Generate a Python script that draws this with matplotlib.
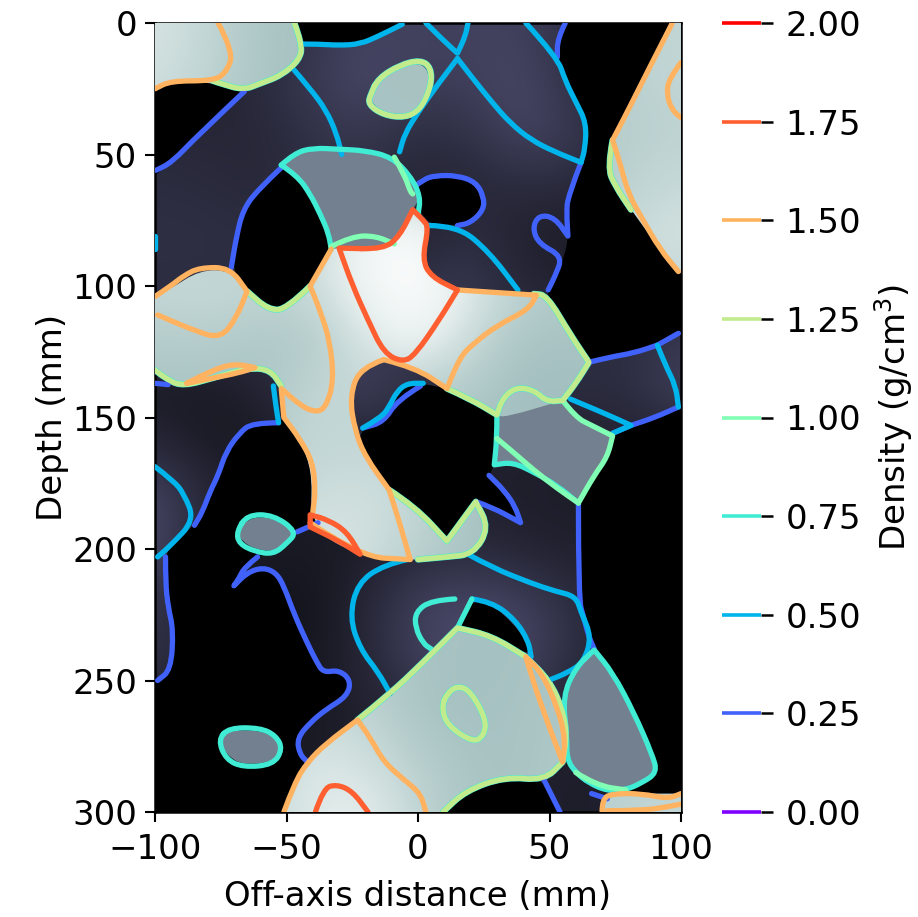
import numpy as np
import matplotlib
matplotlib.use("Agg")
import matplotlib.pyplot as plt
from matplotlib.path import Path
from matplotlib.patches import PathPatch
from matplotlib.colors import LinearSegmentedColormap, Normalize

# ---- colourbar levels and axis labels
levels = [0.00, 0.25, 0.50, 0.75, 1.00, 1.25, 1.50, 1.75, 2.00]
x_ticks = [-100, -50, 0, 50, 100]
y_ticks = [0, 50, 100, 150, 200, 250, 300]

# ---- tone, on a 20 mm grid (x -100..100, y 0..300)
grid_x = [-100, -80, -60, -40, -20, 0, 20, 40, 60, 80, 100]
grid_y = list(range(0, 301, 20))
dark_tone = [
    [.30, .30, .30, .45, .55, .55, .55, .55, .40, .30, .30],
    [.30, .30, .40, .50, .62, .55, .55, .60, .40, .30, .30],
    [.35, .35, .35, .45, .50, .40, .45, .60, .50, .30, .30],
    [.40, .38, .35, .40, .40, .35, .35, .40, .40, .30, .30],
    [.42, .42, .40, .40, .40, .30, .40, .30, .25, .30, .30],
    [.40, .40, .40, .40, .40, .45, .50, .35, .30, .30, .30],
    [.40, .40, .40, .45, .50, .50, .40, .40, .40, .40, .50],
    [.25, .25, .30, .50, .55, .40, .35, .40, .40, .40, .55],
    [.35, .25, .25, .30, .30, .30, .30, .30, .30, .30, .30],
    [.60, .35, .25, .25, .25, .30, .30, .28, .28, .30, .30],
    [.60, .30, .25, .25, .28, .35, .38, .32, .28, .30, .30],
    [.45, .30, .20, .20, .35, .55, .60, .55, .40, .30, .30],
    [.45, .30, .20, .22, .35, .55, .65, .60, .40, .30, .30],
    [.30, .30, .20, .25, .30, .40, .50, .45, .30, .30, .30],
    [.25, .25, .25, .25, .30, .30, .30, .30, .28, .30, .30],
    [.25, .25, .25, .25, .30, .30, .30, .30, .28, .30, .30],
]
pale_tone = [
    [1.64, 1.50, 1.33, 1.27, 1.30, 1.30, 1.30, 1.30, 1.35, 1.40, 1.50],
    [1.60, 1.48, 1.32, 1.27, 1.30, 1.28, 1.30, 1.30, 1.40, 1.45, 1.50],
    [1.50, 1.40, 1.30, 1.30, 1.30, 1.30, 1.30, 1.30, 1.35, 1.42, 1.45],
    [1.50, 1.40, 1.30, 1.30, 1.30, 1.30, 1.30, 1.30, 1.35, 1.45, 1.52],
    [1.50, 1.40, 1.40, 1.50, 1.90, 1.95, 1.50, 1.40, 1.40, 1.55, 1.62],
    [1.50, 1.55, 1.50, 1.55, 1.85, 2.00, 1.70, 1.45, 1.35, 1.50, 1.50],
    [1.40, 1.40, 1.35, 1.35, 1.65, 1.85, 1.55, 1.30, 1.30, 1.30, 1.30],
    [1.30, 1.30, 1.30, 1.50, 1.50, 1.40, 1.35, 1.25, 1.25, 1.25, 1.25],
    [1.30, 1.30, 1.40, 1.50, 1.50, 1.45, 1.30, 1.25, 1.25, 1.25, 1.25],
    [1.40, 1.40, 1.45, 1.55, 1.60, 1.50, 1.30, 1.25, 1.25, 1.25, 1.25],
    [1.40, 1.40, 1.50, 1.70, 1.60, 1.45, 1.30, 1.25, 1.25, 1.25, 1.25],
    [1.40, 1.40, 1.50, 1.60, 1.50, 1.30, 1.28, 1.28, 1.30, 1.30, 1.30],
    [1.40, 1.40, 1.45, 1.50, 1.45, 1.30, 1.27, 1.28, 1.32, 1.30, 1.30],
    [1.40, 1.40, 1.40, 1.55, 1.45, 1.30, 1.27, 1.30, 1.35, 1.30, 1.30],
    [1.40, 1.40, 1.50, 1.65, 1.60, 1.40, 1.30, 1.30, 1.35, 1.40, 1.40],
    [1.40, 1.40, 1.50, 1.70, 1.75, 1.50, 1.30, 1.30, 1.40, 1.50, 1.50],
]

# ---- regions with no density signal (black), read as (x mm, y mm)
black_regions = [
    [(-100, 20), (-60, 20), (-66, 26), (-84, 43), (-93.6, 53), (-100, 58)],
    [(-46, 0), (-44, 8), (-38, 8), (-30, 8.5), (-22, 8), (-15, 5), (-6, 0.5), (-3, 0)],
    [(56, 0), (53, 6), (53, 13), (56, 22), (60, 30), (63.5, 38), (63, 48), (62, 53), (57, 66), (56.5, 72),
     (57, 81), (56, 88), (52, 96.5), (49.5, 101.5), (49, 103.5), (58, 118.6), (65, 129), (73, 127),
     (82, 125.5), (91, 122.5), (99, 118), (100, 117), (100, 0)],
    [(-52, 55), (-61, 63.5), (-66.5, 71), (-69, 81), (-71, 93), (-65, 102), (-57, 109), (-50, 109),
     (-41, 100), (-33, 85), (-34, 80), (-37, 73), (-41, 65), (-46, 58)],
    [(-1, 62), (2, 60), (6.5, 58.5), (15, 58.5), (21, 61), (24, 66), (24, 71), (20, 75), (15, 77),
     (4, 77), (-1, 68)],
    [(-23, 161), (-21, 154), (-14, 150), (-11, 146), (-8, 140), (-4, 137), (1, 137), (11, 139), (30, 149),
     (30, 158), (29, 168), (27, 172), (33, 178), (37, 184), (38, 189), (28, 184), (22, 182), (11, 197),
     (-1, 184), (-11, 177.5)],
    [(-53, 152), (-63, 152), (-68, 156), (-73, 163), (-76, 172), (-79, 178), (-82, 186), (-85, 191),
     (-94, 198.6), (-96, 203), (-96, 213), (-95, 222), (-93, 231), (-94, 246), (-99, 250), (-100, 251),
     (-100, 300), (-51, 300), (-42, 281), (-45, 277), (-45, 272.6), (-41, 266), (-35, 261), (-27, 255),
     (-26, 251), (-30, 247), (-36, 247), (-38.5, 242), (-42, 236), (-47, 225), (-51, 214), (-54, 210),
     (-59, 208), (-65, 210), (-70, 214), (-68, 211), (-66, 207), (-61, 203), (-55, 201), (-46, 193.5),
     (-38, 190), (-41, 187), (-40, 167), (-51, 150)],
    [(20.5, 219), (28, 221), (36, 228), (41, 235), (43, 241), (28, 233), (15, 230)],
    [(9.5, 300), (18, 292), (33, 286.6), (48, 288), (51, 294), (54, 300)],
    [(61, 182), (74, 156), (81, 153), (90, 150), (99, 146), (100, 145.5), (100, 300), (70, 300), (70, 296),
     (72, 293), (78, 291), (67, 238.4), (65, 233.5), (63, 226), (61, 219)],
]

# ---- mid density regions (flat slate)
mid_regions = [
    [(-52, 54), (-47, 50), (-40, 48), (-30, 48.5), (-20, 49), (-10, 52), (-3, 58), (1, 66), (-2, 71),
     (-7, 81), (-13, 86), (-33, 86), (-34, 80), (-37, 73), (-41, 65), (-46, 58)],
    [(30, 149), (55, 143.5), (60, 150), (66, 153), (74, 157), (72, 165), (67, 172), (61, 182.5), (53, 176),
     (44.5, 171), (36, 167), (29, 168), (30, 158)],
    [(-69, 193.5), (-64, 188), (-55.5, 188), (-46, 193.5), (-50, 198), (-55, 201), (-62, 200), (-67, 197)],
    [(67, 238.4), (60, 245), (55, 256), (56.6, 271), (56.6, 280), (60, 285), (65, 289), (72, 292), (79, 291.6),
     (85, 289), (90, 285), (89, 278), (82, 262), (74, 247)],
    [(-76, 272.6), (-72, 269), (-60, 269), (-54, 272), (-52.5, 276), (-55, 281), (-66.5, 282), (-72, 279)],
]

# ---- high density regions
high_regions = [
    [(-100, 0), (-47, 0), (-44, 8), (-45, 14), (-52, 20), (-60, 23), (-66.5, 25.5), (-75, 23), (-94, 22),
     (-100, 25)],
    [(96.7, 0), (88, 17), (80, 33), (74, 44.5), (72, 55), (75, 62), (81, 71), (92, 86), (99, 94.5), (100, 95),
     (100, 0)],
    [(-18, 26), (-14, 21), (-7, 17), (0, 15), (4, 18), (4, 24), (1, 32), (-5, 35), (-13, 34), (-18, 30)],
    [(-30, 85.6), (-13, 86), (-7, 81), (-2, 71), (2, 75), (4, 77.6), (1.6, 90), (5, 96.5), (15, 101.5), (30, 102),
     (44, 103), (49, 103.5), (58, 118.6), (65, 129), (60, 137), (55, 143.5), (33, 150), (30, 149), (20, 143),
     (11, 139), (-1, 131), (-13, 128), (-22, 132), (-25, 142), (-24, 155), (-20, 165), (-11, 177.5), (-1, 184),
     (11, 197), (22, 182), (27, 192), (21, 202), (11, 203), (0, 204), (-3, 204), (-22, 203), (-41, 192),
     (-40, 167), (-51, 150), (-52, 138), (-56, 132), (-64, 131), (-78, 135), (-89, 138), (-95, 136), (-100, 132),
     (-100, 104), (-94, 101), (-83, 94), (-71.5, 94), (-65, 102), (-57, 109), (-50, 109), (-41, 100), (-33, 86)],
    [(-51, 300), (-47, 289), (-42, 281), (-35, 274), (-23, 265), (-10.6, 255), (1, 244), (15, 230), (28, 233),
     (41, 241), (50, 250), (55, 261), (56.6, 271), (55, 281), (48, 288), (33, 286.6), (18, 292), (9.5, 300)],
    [(70, 300), (70, 295), (74, 293), (85, 293), (100, 293), (100, 300)],
]

# ---- contour traces for each density level
contour_025 = [
    [(-66, 26), (-84, 43), (-93.6, 53), (-99.6, 56)],
    [(-52, 55), (-61, 63.5), (-66.5, 71), (-69, 81), (-71, 93)],
    [(56, 0), (53, 6), (53, 13)],
    [(62, 53), (57, 66), (56.5, 72), (57, 81), (52, 74), (46, 73), (43.5, 78), (46, 84), (55, 88.7), (52, 96.5),
     (49.5, 101.5)],
    [(-1, 62), (2, 59.5), (6.5, 58), (15, 58), (22, 60.5), (25, 66), (25, 71), (20, 76), (15, 77)],
    [(65, 129), (73, 127), (82, 125.5), (91, 122.5), (99, 118)],
    [(74, 156), (81, 153), (90, 150), (99, 146)],
    [(1, 138), (-8, 143.5), (-13, 151.7), (-21, 154)],
    [(-53, 152), (-63, 152), (-68, 156), (-73, 163), (-76, 172), (-79, 178), (-82, 186), (-85, 191)],
    [(-100, 137), (-95, 137.5)],
    [(-96, 203), (-96, 213), (-95, 222), (-93, 231), (-94, 246), (-99, 250)],
    [(-46, 193.5), (-38, 190)],
    [(-61, 203), (-66, 207), (-68, 211), (-70, 214), (-65, 209), (-59, 207), (-54, 209), (-51, 214), (-47, 225),
     (-42, 236), (-38.5, 243), (-36, 247), (-30, 246), (-25.5, 250), (-27, 256), (-35, 261), (-41, 266),
     (-46, 272), (-45, 278), (-42, 281)],
    [(22, 182), (28, 184), (39, 190), (37, 184), (33, 178), (27, 172)],
    [(61, 183), (61, 219), (63, 226), (65, 233.5), (67, 238)],
    [(48, 288), (51, 294), (54, 300)],
    [(66, 293), (72, 295)],
]
contour_050 = [
    [(-44, 8), (-38, 8), (-30, 8.5), (-22, 8), (-15, 5), (-6, 0.5)],
    [(-47, 18), (-41, 25), (-35, 33), (-31, 42), (-29, 50)],
    [(3, 0), (9, 6), (15, 11.5), (18, 5), (19, 0)],
    [(15, 13.5), (7, 24), (0, 34), (-5, 42), (-7, 49)],
    [(15, 13.5), (20, 20), (28, 30), (35, 38), (43, 44.5), (52, 49), (62, 53)],
    [(41, 0), (53, 13), (56, 22), (60, 30), (64, 38), (63.5, 48), (62, 53)],
    [(-100, 81), (-100, 86)],
    [(4, 77), (15, 77), (27, 87), (38, 101.5)],
    [(58, 143), (70, 148), (81, 153), (74, 156)],
    [(91, 122.5), (94, 130), (98, 138), (99, 146)],
    [(-21, 154), (-14, 150), (-11, 146), (-8, 140), (-4, 137), (2, 137)],
    [(-55, 138), (-54, 146), (-53, 152)],
    [(-100, 168.7), (-93, 174), (-89, 179), (-85, 189), (-94, 198.6), (-99, 203)],
    [(-4, 204), (-13, 206), (-23, 213), (-26, 226), (-22, 238), (-15, 247), (-10.6, 255)],
    [(19, 202), (28, 207), (43, 213), (52, 216), (60, 218), (62, 224), (66, 233.5), (63, 243), (57, 247), (49.5, 250)],
    [(20.5, 219), (28, 220), (37, 227), (42, 235), (43, 241)],
]
contour_075 = [
    [(-52, 54), (-47, 49.5), (-40, 47.5), (-30, 48), (-20, 48.5), (-10, 51), (-3, 58), (1, 66), (0, 73)],
    [(-52, 54), (-46, 58), (-41, 65), (-37, 73), (-34, 80), (-33, 86)],
    [(-69, 193.5), (-65, 187), (-55, 187), (-46, 193.5), (-50, 198), (-55, 202), (-62, 201), (-68, 198), (-69, 193.5)],
    [(14, 219), (5, 219.5), (-1, 224), (-1, 230), (2, 236), (5, 238)],
    [(20.5, 219), (15, 230)],
    [(30, 149), (30, 158), (29, 168), (36, 167), (44.5, 171), (53, 176), (61, 182.5)],
    [(67, 238.4), (60, 245), (55, 256), (56.6, 271), (56.6, 280), (60, 285), (65, 289), (72, 292), (79, 291.6),
     (85, 289), (91, 285), (89, 278), (82, 262), (74, 247), (67, 238.4)],
    [(-76, 272.6), (-72, 268), (-60, 268), (-54, 271), (-51.5, 276), (-55, 282), (-66.5, 283), (-73, 280), (-76, 272.6)],
]
contour_100 = [
    [(-33, 85), (-25, 81), (-16, 81), (-9, 84)],
    [(-9, 51), (-5, 58), (-3, 64), (-2, 65)],
    [(30, 158), (36, 163), (44, 170), (53, 177), (61, 182.5)],
    [(55, 143.5), (60, 150), (66, 153), (74, 157), (72, 165), (67, 172), (61, 182.5)],
    [(60, 285), (68, 290), (79, 291.6)],
]
contour_125 = [
    [(-47, 0), (-44, 8), (-45, 14), (-52, 20), (-60, 23), (-66.5, 25.5), (-75, 23), (-78, 22)],
    [(-18, 27), (-15, 21), (-7, 16), (1, 14), (5, 17), (5, 24), (1, 33), (-5, 36), (-13, 35), (-19, 31), (-18, 27)],
    [(-41, 100), (-50, 109), (-57, 109), (-65, 102)],
    [(-100, 132), (-95, 136), (-89, 138), (-78, 135), (-64, 131), (-56, 132), (-52, 138)],
    [(11, 139), (20, 143), (30, 149), (32, 143), (37, 138.5), (44, 139.5), (49, 144), (55, 143.5), (60, 137), (65, 129),
     (58, 118.6), (49, 103.5), (44, 103)],
    [(-11, 177.5), (-1, 184), (11, 197), (22, 182), (27, 192), (21, 202), (11, 203), (0, 204)],
    [(74, 44.5), (72, 55), (75, 62), (81, 71)],
    [(-23, 265), (-10.6, 255), (1, 244), (15, 230), (28, 233), (41, 241), (50, 250), (55, 261), (56.6, 271), (55, 281),
     (48, 288), (33, 286.6), (18, 292), (9.5, 300)],
    [(9, 260), (11, 255), (15, 252), (20, 254), (26, 265), (25, 271), (21, 273.6), (11, 267), (9, 260)],
]
contour_150 = [
    [(-76, 0), (-70, 11), (-73, 19), (-78, 22), (-94, 22), (-100, 25)],
    [(96.7, 0), (88, 17), (80, 33), (74, 44.5), (77, 54), (80, 65), (85, 74), (92, 86), (99, 94.5)],
    [(100, 15), (95.5, 21), (94.5, 27), (96.5, 33), (100, 36)],
    [(-100, 104), (-94, 100), (-89, 96), (-83, 93), (-71.5, 93), (-65, 102), (-69, 112), (-75, 120), (-85, 117), (-99, 111)],
    [(-88, 137), (-78, 132), (-70, 129.5), (-62, 131), (-68, 133), (-78, 135), (-88, 137)],
    [(-33, 86), (-41, 100), (-37, 110), (-33.5, 121), (-32, 136), (-35, 146), (-38.5, 148), (-44, 146), (-52, 139),
     (-51, 150), (-45, 158), (-40, 167), (-39, 178), (-40, 186)],
    [(-13, 128), (-22, 131), (-26, 142), (-24, 155), (-20, 165), (-11, 177.5), (-7, 190), (-3, 204)],
    [(-41, 190), (-22, 203), (-3, 204)],
    [(-13, 128), (-1, 131), (11, 139), (16, 127), (21, 122), (30, 115), (42, 109), (45, 103.5), (15, 101.5)],
    [(-51, 300), (-47, 289), (-42, 281), (-35, 274), (-23, 265), (-18, 272), (-13, 281), (-5, 288), (1, 293), (3, 300)],
    [(41, 241), (47, 247), (53, 260), (56, 272), (55, 281), (50, 268), (45, 254), (41, 241)],
    [(70, 300), (70, 295), (74, 293), (85, 293), (95, 295), (100, 293)],
    [(72, 299.5), (85, 299.5), (95, 298), (100, 297)],
]
contour_175 = [
    [(-30, 85.6), (-13, 86), (-7, 81), (-2, 71), (2, 75), (4, 77.6), (1.6, 90), (5, 96.5), (15, 101.5), (8, 113), (-1, 126),
     (-5.7, 129), (-13, 125.5), (-19, 113), (-25, 99.6), (-30, 85.6)],
    [(-41, 187), (-34, 189), (-27, 193.5), (-22, 202), (-30, 197), (-41, 191.6), (-41, 187)],
    [(-39, 300), (-36, 291), (-31, 289.5), (-25, 292), (-19, 300)],
]
contours = {0.25: contour_025, 0.50: contour_050, 0.75: contour_075, 1.00: contour_100,
            1.25: contour_125, 1.50: contour_150, 1.75: contour_175}

# vertices where the traced outlines really turn sharply
sharp_vertices = {(-2, 71), (15, 101.5), (-30, 85.6), (-33, 86), (-33, 85), (74, 44.5), (11, 197), (22, 182),
                  (61, 182.5), (61, 182), (55, 143.5), (30, 149), (65, 129), (-52, 54), (-52, 55), (15, 230), (41, 241),
                  (55, 281), (-23, 265), (-52, 139), (-51, 150), (11, 139), (-70, 214), (57, 81), (62, 53), (15, 11.5),
                  (15, 13.5), (67, 238.4), (67, 238), (91, 122.5), (81, 153), (74, 156), (74, 157), (-65, 102),
                  (-41, 100), (-22, 202), (-41, 187), (-41, 191.6), (-13, 128), (29, 168), (-53, 152), (-33, 86),
                  (-26, 251), (-78, 135), (-88, 137), (-62, 131), (100, 15), (45, 103.5), (-40, 186), (39, 190), (-11, 177.5)}


def outline(points, closed=False):
    """Path through the read points, drawn with the library's quadratic curves."""
    pts = [tuple(p) for p in points]
    if closed and pts[0] != pts[-1]:
        pts = pts + [pts[0]]
    is_loop = pts[0] == pts[-1]
    if is_loop:
        pts = pts[:-1]
        n = len(pts)
        start = ((pts[0][0] + pts[1][0]) / 2, (pts[0][1] + pts[1][1]) / 2)
        seq = [pts[(i + 1) % n] for i in range(n)] + [pts[1]]
    else:
        start, seq = pts[0], pts[1:]
    verts, codes = [start], [Path.MOVETO]
    for i in range(len(seq) - 1):
        p, nxt = seq[i], seq[i + 1]
        mid = ((p[0] + nxt[0]) / 2, (p[1] + nxt[1]) / 2)
        if p in sharp_vertices or abs(p[0]) >= 100 or p[1] in (0, 300):
            verts += [p, mid]
            codes += [Path.LINETO, Path.LINETO]
        else:
            verts += [p, mid]
            codes += [Path.CURVE3, Path.CURVE3]
    if not is_loop:
        verts.append(seq[-1])
        codes.append(Path.LINETO)
    return Path(verts, codes)


# ---- figure
W, H = 918, 917
FS = 24.5
plt.rcParams.update({"font.family": "DejaVu Sans", "font.size": FS})
fig = plt.figure(figsize=(W / 100, H / 100), dpi=100)
ax = fig.add_axes([155 / W, 1 - 812 / H, 526 / W, 789 / H])
cax = fig.add_axes([722 / W, 1 - 812 / H, 39 / W, 789 / H])

extent = (-110, 110, 310, -10)
dark_cmap = LinearSegmentedColormap.from_list("dark", ["#14141c", "#33334a", "#55557a"])
high_cmap = LinearSegmentedColormap.from_list("high", [(0, "#a3bfbf"), (1 / 3, "#c3d7d6"), (2 / 3, "#e8f0ef"), (1, "#ffffff")])

ax.imshow(dark_tone, cmap=dark_cmap, norm=Normalize(0.2, 0.7), extent=extent, interpolation="bicubic",
          aspect="auto", zorder=1)
for poly in black_regions:
    ax.add_patch(PathPatch(outline(poly, True), fc="black", ec="none", zorder=2))
for poly in mid_regions:
    ax.add_patch(PathPatch(outline(poly, True), fc="#73808f", ec="none", zorder=3))

high_im = ax.imshow(pale_tone, cmap=high_cmap, norm=Normalize(1.25, 2.0), extent=extent, interpolation="bicubic",
                    aspect="auto", zorder=4)
high_im.set_clip_path(Path.make_compound_path(*[outline(p, True) for p in high_regions]), ax.transData)

cmap = plt.get_cmap("rainbow")
for i, (lev, traces) in enumerate(contours.items()):
    for tr in traces:
        if lev == 1.25:
            ax.add_patch(PathPatch(outline(tr), fc="none", ec=cmap(0.375), lw=4.5, capstyle="round",
                                   joinstyle="round", zorder=4.5))
        ax.add_patch(PathPatch(outline(tr), fc="none", ec=cmap(lev / 2), lw=3.8, capstyle="round",
                               joinstyle="round", zorder=5 + i))

ax.set_xlim(-100, 100)
ax.set_ylim(300, 0)
ax.set_xticks(x_ticks)
ax.set_yticks(y_ticks)
ax.set_xticklabels([str(v).replace("-", "\u2212") for v in x_ticks])
ax.tick_params(length=7, width=1.5, labelsize=FS, pad=6)
ax.tick_params(axis="x", pad=8)
for s in ax.spines.values():
    s.set_linewidth(1.8)
ax.set_xlabel("Off-axis distance (mm)", fontsize=FS, labelpad=10)
ax.set_ylabel("Depth (mm)", fontsize=FS, labelpad=2)

cax.hlines(levels, 0, 1, colors=[cmap(v / 2) for v in levels], lw=2.6, clip_on=False)
cax.set_xlim(0, 1)
cax.set_ylim(0, 2)
cax.set_xticks([])
cax.yaxis.tick_right()
cax.set_yticks(levels)
cax.set_yticklabels([f"{v:.2f}" for v in levels])
cax.tick_params(axis="y", length=8.5, width=1.8, labelsize=FS, pad=9)
cax.yaxis.set_label_position("right")
cax.set_ylabel("Density (g/cm$^3$)", fontsize=FS, labelpad=8)
for s in cax.spines.values():
    s.set_visible(False)

fig.savefig("out.png", dpi=100)
